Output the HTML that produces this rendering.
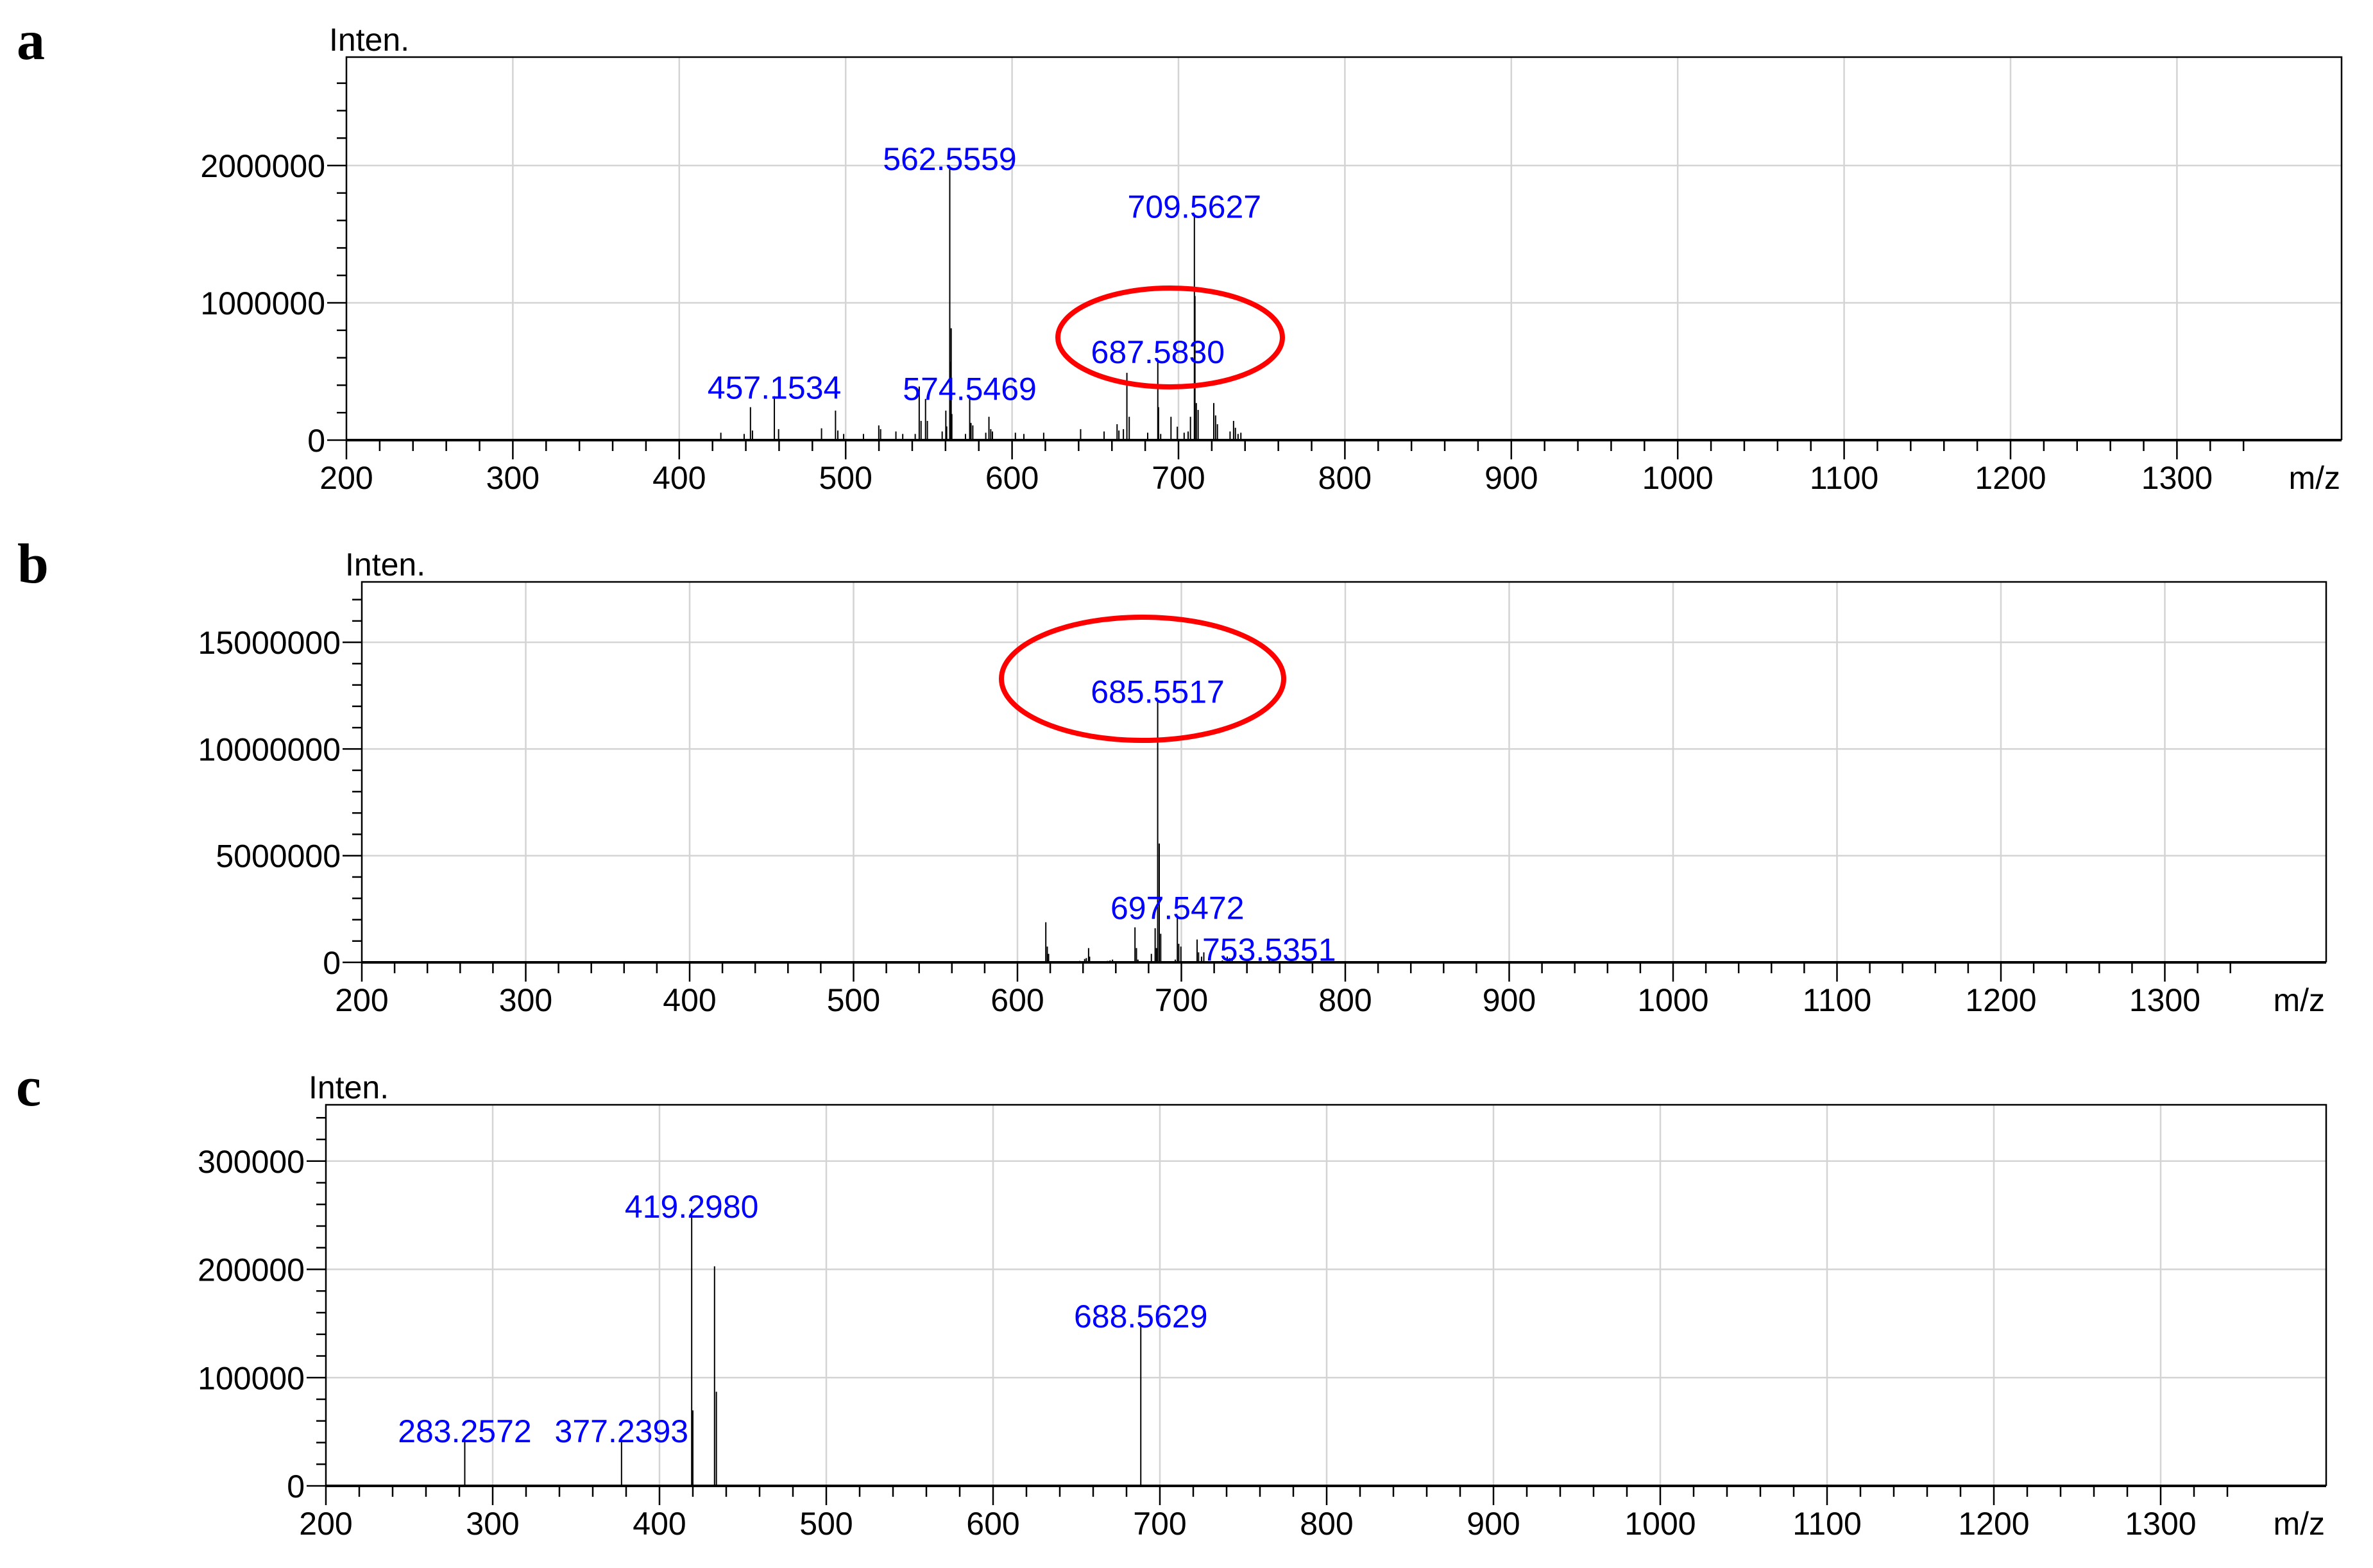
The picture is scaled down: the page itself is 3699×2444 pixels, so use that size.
<!DOCTYPE html>
<html><head><meta charset="utf-8">
<style>
html,body{margin:0;padding:0;background:#fff;}
svg{display:block;}
text{font-family:"Liberation Sans",sans-serif;}
</style></head>
<body>
<svg id="fig" width="3699" height="2444" viewBox="0 0 3699 2444" xmlns="http://www.w3.org/2000/svg">
<rect x="0" y="0" width="3699" height="2444" fill="#fff"/>
</svg>
<script>
// ---- Panel a data ----
const aMz = [425,439,442.8,444,457.15,459.7,485.5,493.9,495.3,498.8,510.7,519.9,521,530.2,534.3,541.8,544.2,545.3,548,549.1,558,560.2,560.7,562.56,562.9,563.4,563.8,572,574.55,575.3,576.4,584.2,586.1,587.2,588.2,602,607.1,619,641.2,655.3,663.1,664.2,666.9,669,670.4,681.5,687.58,688,689.3,695.5,699.3,703.4,705.8,707.2,709.56,709.9,710.7,711.8,721.2,722.3,723.4,731,733.1,734.2,735.8,737.5];
const aInt = [54000,45000,240000,70000,320000,80000,86000,215000,70000,45000,45000,107000,80000,63000,45000,45000,390000,140000,300000,140000,63000,215000,100000,1986000,570000,815000,190000,45000,310000,125000,107000,54000,170000,80000,63000,54000,45000,54000,80000,63000,116000,70000,80000,490000,170000,54000,580000,240000,45000,170000,98000,54000,63000,170000,1637000,1050000,270000,220000,270000,180000,116000,63000,140000,90000,45000,54000];
const aLabelMz = [457.1534,562.5559,574.5469,687.5830,709.5627];
const aLabelInt = [320000,1986000,310000,580000,1637000];
const aLabelText = ["457.1534","562.5559","574.5469","687.5830","709.5627"];
const aYTicks = [0,1000000,2000000];
const aYTickLabels = ["0","1000000","2000000"];

// ---- Panel b data ----
const bMz = [617.3,618.2,619,638,641,642,643.4,644,655,656.5,658,671.7,672.6,673.5,681.7,684,684.8,685.55,686.5,687.4,696.3,697.55,698.4,699.7,709.6,710.5,712.3,713.7,725,728,729.5,731,741,753.54,756,770,773];
const bInt = [1880000,740000,400000,70000,160000,200000,670000,270000,70000,90000,130000,1640000,670000,130000,400000,1600000,670000,12280000,5570000,1340000,130000,2150000,870000,740000,1070000,470000,270000,470000,90000,270000,200000,130000,70000,200000,70000,70000,50000];
const bLabelMz = [685.5517,697.5472,753.5351];
const bLabelInt = [12280000,2150000,200000];
const bLabelText = ["685.5517","697.5472","753.5351"];
const bYTicks = [0,5000000,10000000,15000000];
const bYTickLabels = ["0","5000000","10000000","15000000"];

// ---- Panel c data ----
const cMz = [283.26,377.24,419.3,420,433.0,434.1,688.56];
const cInt = [42600,42600,255800,69700,202800,87000,148600];
const cLabelMz = [283.2572,377.2393,419.2980,688.5629];
const cLabelInt = [42600,42600,250000,148600];
const cLabelText = ["283.2572","377.2393","419.2980","688.5629"];
const cYTicks = [0,100000,200000,300000];
const cYTickLabels = ["0","100000","200000","300000"];

const xTicks = [200,300,400,500,600,700,800,900,1000,1100,1200,1300];
const xTickLabels = ["200","300","400","500","600","700","800","900","1000","1100","1200","1300"];

const svg = document.getElementById('fig');
const NS = 'http://www.w3.org/2000/svg';
function mk(tag, attrs, parent){
  const e = document.createElementNS(NS, tag);
  for (const k in attrs) e.setAttribute(k, attrs[k]);
  (parent||svg).appendChild(e);
  return e;
}

function panel(cfg){
  const g = mk('g', {});
  
  
  const L=cfg.L,R=cfg.R,T=cfg.T,B=cfg.B;
  const xs = v => L + (v - 200) * cfg.pxPer100 / 100;
  const ys = v => B - (v / cfg.yMax) * (B - T);

  xTicks.forEach(v => {
    const x = xs(v);
    if (x > L + 2 && x < R) {
      const gl = mk('line', {x1:x,y1:T,x2:x,y2:B,stroke:'#d4d4d4','stroke-width':2.5}, g);
      
      
    }
  });
  cfg.yTicks.forEach(v => {
    if (v === 0) return;
    const y = ys(v);
    const gl = mk('line', {x1:L,y1:y,x2:R,y2:y,stroke:'#d4d4d4','stroke-width':2.5}, g);
    
    
  });

  const fr = mk('path', {d:`M${L},${B} L${L},${T} L${R},${T} L${R},${B}`, fill:'none', stroke:'#000','stroke-width':2.5}, g);
  
  

  for (let v = 0; v <= cfg.yMax + 1e-6; v += cfg.yMinor) {
    const y = ys(v);
    const major = cfg.yTicks.some(t => Math.abs(t - v) < cfg.yMinor / 10);
    const tk = mk('line', {x1:L-(major?30:15),y1:y,x2:L,y2:y,stroke:'#000','stroke-width':2.5}, g);
    
    
  }
  cfg.yTicks.forEach((v,i) => {
    const t = mk('text', {x:L-33,y:ys(v)+18,'font-size':50,'text-anchor':'end',fill:'#000'}, g);
    t.textContent = cfg.yTickLabels[i];
    
    
  });

  for (let v = 200; v <= 1341; v += 20) {
    const x = xs(v);
    if (x > R + 3) break;
    const major = (v % 100 === 0);
    const tk = mk('line', {x1:x,y1:B,x2:x,y2:B+(major?30:17),stroke:'#000','stroke-width':2.5}, g);
    
    
  }
  xTicks.forEach((v,i) => {
    const t = mk('text', {x:xs(v),y:B+76,'font-size':50,'text-anchor':'middle',fill:'#000'}, g);
    t.textContent = xTickLabels[i];
    
    
  });
  const mz = mk('text', {x:R-2,y:B+76,'font-size':50,'text-anchor':'end',fill:'#000'}, g);
  mz.textContent = 'm/z';
  
  

  const it = mk('text', {x:cfg.intenX,y:T-10,'font-size':50,fill:'#000'}, g);
  it.textContent = 'Inten.';
  
  

  const pl = mk('text', {x:cfg.letterX,y:cfg.letterY,fill:'#000',style:'font-family:"Liberation Serif",serif;font-weight:bold;font-size:88px;'}, g);
  pl.textContent = cfg.id;
  
  

  cfg.mz.forEach((m,i) => {
    const x = xs(m);
    const pk = mk('line', {x1:x,y1:B,x2:x,y2:ys(cfg.int[i]),stroke:'#000','stroke-width':2}, g);
    
    
  });

  const ax = mk('line', {x1:L,y1:B,x2:R,y2:B,stroke:'#000','stroke-width':4}, g);
  
  

  cfg.labelMz.forEach((m,i) => {
    const t = mk('text', {x:xs(m),y:ys(cfg.labelInt[i])+4,'font-size':50,'text-anchor':'middle',fill:'#0000ff'}, g);
    t.textContent = cfg.labelText[i];
    
    
  });

  if (cfg.ell) {
    const e = mk('ellipse', {cx:cfg.ell[0],cy:cfg.ell[1],rx:cfg.ell[2],ry:cfg.ell[3],fill:'none',stroke:'#ff0000','stroke-width':8}, g);
    
    
  }
}

panel({id:'a',L:540,R:3650,T:89,B:686,pxPer100:259.4,yMax:2790000,yMinor:200000,
  yTicks:aYTicks,yTickLabels:aYTickLabels,mz:aMz,int:aInt,labelMz:aLabelMz,labelInt:aLabelInt,labelText:aLabelText,
  intenX:513,letterX:26,letterY:92,ell:[1824,526,175,77]});
panel({id:'b',L:564,R:3626,T:907,B:1500,pxPer100:255.5,yMax:17830000,yMinor:1000000,
  yTicks:bYTicks,yTickLabels:bYTickLabels,mz:bMz,int:bInt,labelMz:bLabelMz,labelInt:bLabelInt,labelText:bLabelText,
  intenX:538,letterX:27,letterY:908,ell:[1781,1058,220,96]});
panel({id:'c',L:508,R:3626,T:1722,B:2316,pxPer100:260,yMax:352000,yMinor:20000,
  yTicks:cYTicks,yTickLabels:cYTickLabels,mz:cMz,int:cInt,labelMz:cLabelMz,labelInt:cLabelInt,labelText:cLabelText,
  intenX:481,letterX:25,letterY:1723,ell:null});
</script>
</body></html>
